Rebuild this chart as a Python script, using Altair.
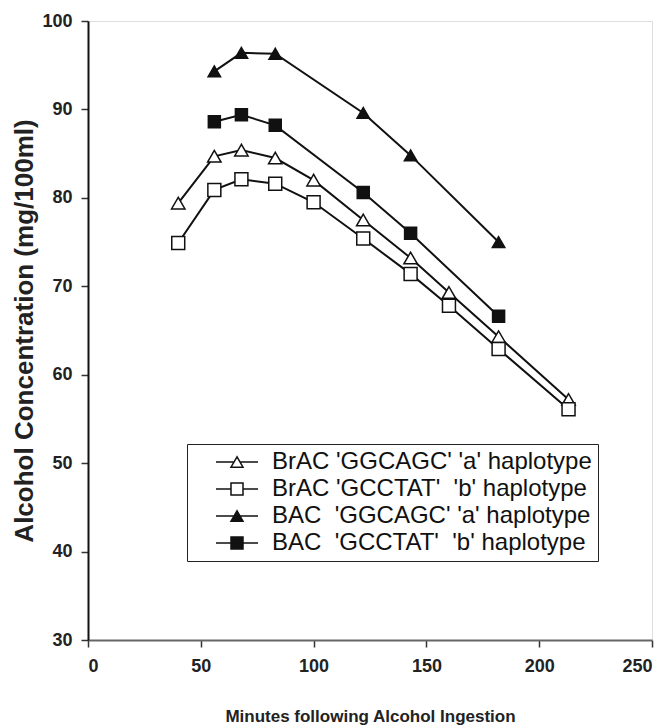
import altair as alt
import pandas as pd

# ---- data ----
minutes_brac = [40, 56, 68, 83, 100, 122, 143, 160, 182, 213]
brac_a = [79.4, 84.7, 85.4, 84.5, 82.0, 77.5, 73.2, 69.3, 64.3, 57.2]
brac_b = [74.9, 80.9, 82.1, 81.6, 79.5, 75.4, 71.4, 67.8, 62.9, 56.1]
minutes_bac = [56, 68, 83, 122, 143, 182]
bac_a = [94.3, 96.4, 96.3, 89.6, 84.8, 75.0]
bac_b = [88.6, 89.4, 88.2, 80.6, 76.0, 66.6]

series_labels = [
    "BrAC 'GGCAGC' 'a' haplotype",
    "BrAC 'GCCTAT'\u00a0 'b' haplotype",
    "BAC\u00a0 'GGCAGC' 'a' haplotype",
    "BAC\u00a0 'GCCTAT'\u00a0 'b' haplotype",
]
x_ticks = [0, 50, 100, 150, 200, 250]
y_ticks = [30, 40, 50, 60, 70, 80, 90, 100]

rows = []
for xs, ys, lab in [
    (minutes_brac, brac_a, series_labels[0]),
    (minutes_brac, brac_b, series_labels[1]),
    (minutes_bac, bac_a, series_labels[2]),
    (minutes_bac, bac_b, series_labels[3]),
]:
    for xv, yv in zip(xs, ys):
        rows.append({"minutes": xv, "conc": yv, "series": lab})
df = pd.DataFrame(rows)

FONT = "Liberation Sans, Arial, sans-serif"
INK = "#111111"

point_shapes = ["triangle-up", "square", "triangle-up", "square"]
point_sizes = [180, 144, 180, 144]
fills = ["white", "white", INK, INK]
# legend symbols: marker with line stubs on both sides (unit coords)
tri = "M0,-0.866L-1,0.866L1,0.866Z"
sq = "M-1,-1L1,-1L1,1L-1,1Z"
tri_leg = "M-3.5,0L-0.5,0M0.5,0L3.5,0M" + tri[1:]
sq_leg = "M-3.5,0L-1,0M1,0L3.5,0M" + sq[1:]
legend_shapes = [tri_leg, sq_leg, tri_leg, sq_leg]

x_enc = alt.X(
    "minutes:Q",
    scale=alt.Scale(domain=[0, 250], nice=False, zero=False),
    axis=alt.Axis(
        values=x_ticks,
        title="Minutes following Alcohol Ingestion",
        grid=False,
        labelFont=FONT,
        labelFontSize=18,
        labelFontWeight="bold",
        labelColor="#222222",
        labelPadding=10,
        tickSize=7,
        tickColor="#333333",
        tickWidth=1.5,
        domainColor="#666666",
        domainWidth=2,
        titleFont=FONT,
        titleFontSize=17,
        titleFontWeight="bold",
        titleColor="#222222",
        titlePadding=33,
    ),
)
y_enc = alt.Y(
    "conc:Q",
    scale=alt.Scale(domain=[30, 100], nice=False, zero=False),
    axis=alt.Axis(
        values=y_ticks,
        title="Alcohol Concentration (mg/100ml)",
        grid=False,
        labelFont=FONT,
        labelFontSize=18,
        labelFontWeight="bold",
        labelColor="#222222",
        labelPadding=9,
        tickSize=7,
        tickColor="#333333",
        tickWidth=1.5,
        domainColor="#111111",
        domainWidth=2,
        titleFont=FONT,
        titleFontSize=26,
        titleFontWeight="bold",
        titleColor="#222222",
        titlePadding=4,
    ),
)

base = alt.Chart(df)

lines = base.mark_line(color=INK, strokeWidth=2).encode(
    x=x_enc, y=y_enc, detail="series:N"
)

points = base.mark_point(filled=True, stroke=INK, strokeWidth=1.5, opacity=1).encode(
    x=x_enc,
    y=y_enc,
    shape=alt.Shape("series:N", scale=alt.Scale(domain=series_labels, range=point_shapes), legend=None),
    fill=alt.Fill("series:N", scale=alt.Scale(domain=series_labels, range=fills), legend=None),
    size=alt.Size("series:N", scale=alt.Scale(domain=series_labels, range=point_sizes), legend=None),
)

legend_cfg = dict(
    title=None,
    orient="none",
    legendX=99,
    legendY=423,
    padding=6,
    strokeColor="#222222",
    fillColor="white",
    labelFont=FONT,
    labelFontSize=24,
    labelColor=INK,
    labelLimit=0,
    labelOffset=23,
    symbolSize=144,
    symbolOffset=32,
    symbolStrokeWidth=1.5,
    symbolStrokeColor=INK,
    rowPadding=3,
)

legend_layer = base.mark_point(filled=True, strokeWidth=1.5, opacity=1).encode(
    x=x_enc,
    y=y_enc,
    shape=alt.Shape("series:N", scale=alt.Scale(domain=series_labels, range=legend_shapes), legend=alt.Legend(**legend_cfg)),
    fill=alt.Fill("series:N", scale=alt.Scale(domain=series_labels, range=fills), legend=alt.Legend(**legend_cfg)),
    stroke=alt.Stroke("series:N", scale=alt.Scale(domain=series_labels, range=[INK] * 4), legend=alt.Legend(**legend_cfg)),
).transform_filter("false")

chart = (
    alt.layer(lines, points, legend_layer)
    .resolve_scale(shape="independent", fill="independent", stroke="independent")
    .properties(
        width=564,
        height=619,
        padding={"left": 80, "top": 13, "right": 10, "bottom": 90},
        autosize=alt.AutoSizeParams(type="none"),
    )
    .configure_view(stroke="#777777", strokeWidth=2)
    .configure(background="white")
)

chart.save("out.html", embed_options={"renderer": "svg", "actions": False})
